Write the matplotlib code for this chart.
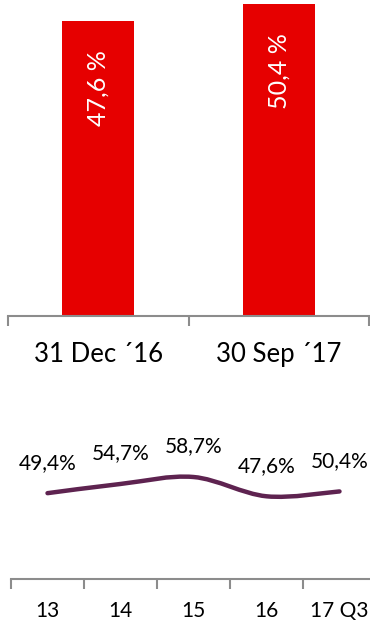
import numpy as np
import matplotlib
matplotlib.use('Agg')
import matplotlib.pyplot as plt
from matplotlib.path import Path
from matplotlib.patches import PathPatch

plt.rcParams['font.family'] = ['Lato', 'DejaVu Sans']

# values
bar_labels = ['31 Dec ´16', '30 Sep ´17']
bar_values = [47.6, 50.4]
years = ['13', '14', '15', '16', '17 Q3']
ratios = [49.4, 54.7, 58.7, 47.6, 50.4]

RED = '#E60000'
PLUM = '#5E2350'
GREY = '#8C8C8C'


def fmt(v, sep=''):
    return f'{v:.1f}'.replace('.', ',') + sep + '%'


def style_axis(ax, n):
    for s in ['top', 'right', 'left']:
        ax.spines[s].set_visible(False)
    ax.spines['bottom'].set_color(GREY)
    ax.spines['bottom'].set_linewidth(1.5)
    ax.set_yticks([])
    ax.set_xlim(-0.5, n - 0.5)
    # boundary ticks between categories, labels sit on minor ticks at centers
    ax.set_xticks(np.arange(n + 1) - 0.5)
    ax.set_xticklabels([])
    ax.tick_params(axis='x', which='major', direction='out', length=7,
                   width=1.5, color=GREY)


def smooth_path(xs, ys):
    # cubic bezier through the points, excel-style smoothing
    pts = np.column_stack([xs, ys]).astype(float)
    ext = np.vstack([pts[0], pts, pts[-1]])
    verts = [pts[0]]
    codes = [Path.MOVETO]
    for i in range(len(pts) - 1):
        p0, p1, p2, p3 = ext[i], ext[i + 1], ext[i + 2], ext[i + 3]
        c1 = p1 + (p2 - p0) / 6
        c2 = p2 - (p3 - p1) / 6
        verts += [c1, c2, p2]
        codes += [Path.CURVE4] * 3
    return Path(verts, codes)


fig = plt.figure(figsize=(3.7, 6.22), dpi=100)

# top: bar chart
ax1 = fig.add_axes([8 / 370, 306 / 622, 361 / 370, 316 / 622])
x1 = np.arange(len(bar_values))
ax1.bar(x1, bar_values, width=0.4, color=RED)
ax1.set_ylim(0, 51.0)
style_axis(ax1, len(bar_values))
ax1.set_xticks(x1, minor=True)
ax1.set_xticklabels(bar_labels, minor=True, fontsize=18.5)
ax1.tick_params(axis='x', which='minor', length=0, pad=18.5)
for x, v in zip(x1, bar_values):
    ax1.annotate(fmt(v, ' '), (x, v), xytext=(0, -21), textcoords='offset points',
                 rotation=90, ha='center', va='top', color='white', fontsize=18)

# bottom: smoothed line
ax2 = fig.add_axes([11 / 370, 43 / 622, 365 / 370, 139 / 622])
x2 = np.arange(len(ratios))
ax2.add_patch(PathPatch(smooth_path(x2, ratios), fill=False, edgecolor=PLUM,
                        lw=3.2, capstyle='round', joinstyle='round'))
ax2.set_ylim(0, 80)
style_axis(ax2, len(ratios))
ax2.set_xticks(x2, minor=True)
ax2.set_xticklabels(years, minor=True, fontsize=15)
ax2.tick_params(axis='x', which='minor', length=0, pad=15.5)
for x, v in zip(x2, ratios):
    ax2.annotate(fmt(v), (x, v), xytext=(0, 22), textcoords='offset points',
                 ha='center', va='center', fontsize=15)

fig.savefig('out.png', dpi=100)
